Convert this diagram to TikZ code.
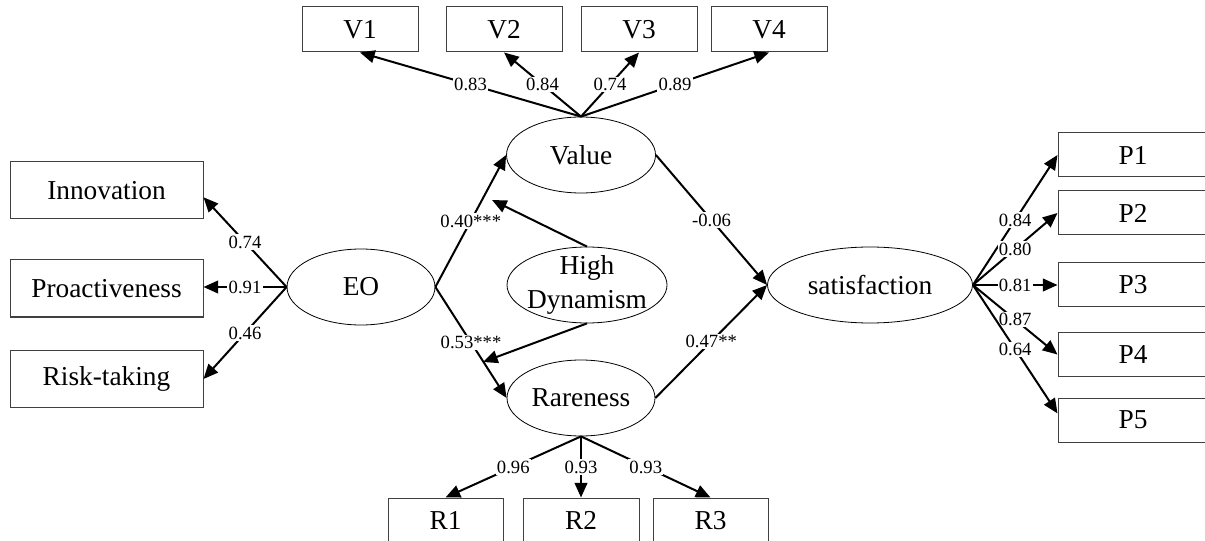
\documentclass[tikz,border=0pt]{standalone}
\usepackage{fontspec}
\setmainfont{Liberation Serif}
\usetikzlibrary{arrows.meta,shapes.geometric}
\begin{document}
\begin{tikzpicture}[x=0.75pt,y=-0.75pt,
  obs/.style={draw=black!75, line width=0.75pt, rectangle, inner sep=0pt, font=\fontsize{20.5}{24}\selectfont},
  vbox/.style={obs, minimum width=87pt, minimum height=33.75pt},
  pbox/.style={obs, minimum width=112.5pt, minimum height=33pt},
  lbox/.style={obs, minimum width=144.75pt, minimum height=42.75pt},
  lat/.style={draw=black, line width=0.6pt, ellipse, inner sep=0pt, minimum width=111pt, minimum height=57pt, font=\fontsize{20.5}{25}\selectfont},
  ln/.style={line width=1.5pt, -{Triangle[length=11pt,width=9.5pt]}},
  lbl/.style={fill=white, inner sep=1pt, font=\fontsize{14}{16}\selectfont}
]
\useasboundingbox (0,0) rectangle (1205,541);
\clip (0,0) rectangle (1205,541);

% observed boxes
\node[lbox] (Inn) at (106.5,190.5) {Innovation};
\node[lbox] (Pro) at (106.5,288.5) {Proactiveness};
\node[lbox] (Risk) at (106.5,379) {Risk-taking};

\node[vbox] (V1) at (360,29.5) {V1};
\node[vbox] (V2) at (504,29.5) {V2};
\node[vbox] (V3) at (639,29.5) {V3};
\node[vbox] (V4) at (769,29.5) {V4};

\node[obs, minimum width=86.25pt, minimum height=33.75pt] (R1) at (445.5,520.5) {R1};
\node[obs, minimum width=87pt, minimum height=33.75pt] (R2) at (581,520.5) {R2};
\node[obs, minimum width=86.25pt, minimum height=33.75pt] (R3) at (710.5,520.5) {R3};

\node[pbox] (P1) at (1133,155) {P1};
\node[pbox] (P2) at (1133,213) {P2};
\node[pbox] (P3) at (1133,285) {P3};
\node[pbox] (P4) at (1133,354.5) {P4};
\node[pbox] (P5) at (1133,420) {P5};

% latent ellipses
\node[lat] (EO) at (361,287) {EO};
\node[lat, minimum width=111.75pt] (Val) at (581,155) {Value};
\node[lat, minimum width=120pt] (HD) at (587,285) {};
\node[font=\fontsize{20.5}{25}\selectfont, align=center, inner sep=0pt] (HDt) at (HD.center) {High\\Dynamism};
\node[lat] (Rar) at (581,398) {Rareness};
\node[lat, minimum width=153.75pt] (Sat) at (870,285) {satisfaction};

\coordinate (hv) at (492,200);
\coordinate (hr) at (483,362);

% EO indicators
\draw[ln] (EO.west) -- node[lbl]{0.74} (Inn.-4);
\draw[ln] (EO.west) -- node[lbl]{0.91} (EO.west -| Pro.east);
\draw[ln] (EO.west) -- node[lbl]{0.46} (Risk.east);

% structural paths
\draw[ln] (EO.east) -- node[lbl]{0.40***} (Val.west);
\draw[ln] (EO.east) -- node[lbl]{0.53***} (Rar.west);
\draw[ln] (HD.north) -- (hv);
\draw[ln] (HD.south) -- (hr);
\draw[ln] (Val.east) -- node[lbl]{-0.06} (Sat.west);
\draw[ln] (Rar.east) -- node[lbl]{0.47**} (Sat.west);

% Value indicators
\draw[ln] (Val.north) -- node[lbl]{0.83} (V1.south);
\draw[ln] (Val.north) -- node[lbl]{0.84} (V2.south);
\draw[ln] (Val.north) -- node[lbl]{0.74} (V3.south);
\draw[ln] (Val.north) -- node[lbl]{0.89} (V4.south);

% Rareness indicators
\draw[ln] (Rar.south) -- node[lbl]{0.96} (R1.north);
\draw[ln] (Rar.south) -- node[lbl]{0.93} (R2.north);
\draw[ln] (Rar.south) -- node[lbl]{0.93} (R3.north);

% satisfaction indicators
\draw[ln] (Sat.east) -- node[lbl]{0.84} (P1.west);
\draw[ln] (Sat.east) -- node[lbl]{0.80} (P2.west);
\draw[ln] (Sat.east) -- node[lbl]{0.81} (P3.west);
\draw[ln] (Sat.east) -- node[lbl]{0.87} (P4.west);
\draw[ln] (Sat.east) -- node[lbl]{0.64} (P5.175);
\end{tikzpicture}
\end{document}
